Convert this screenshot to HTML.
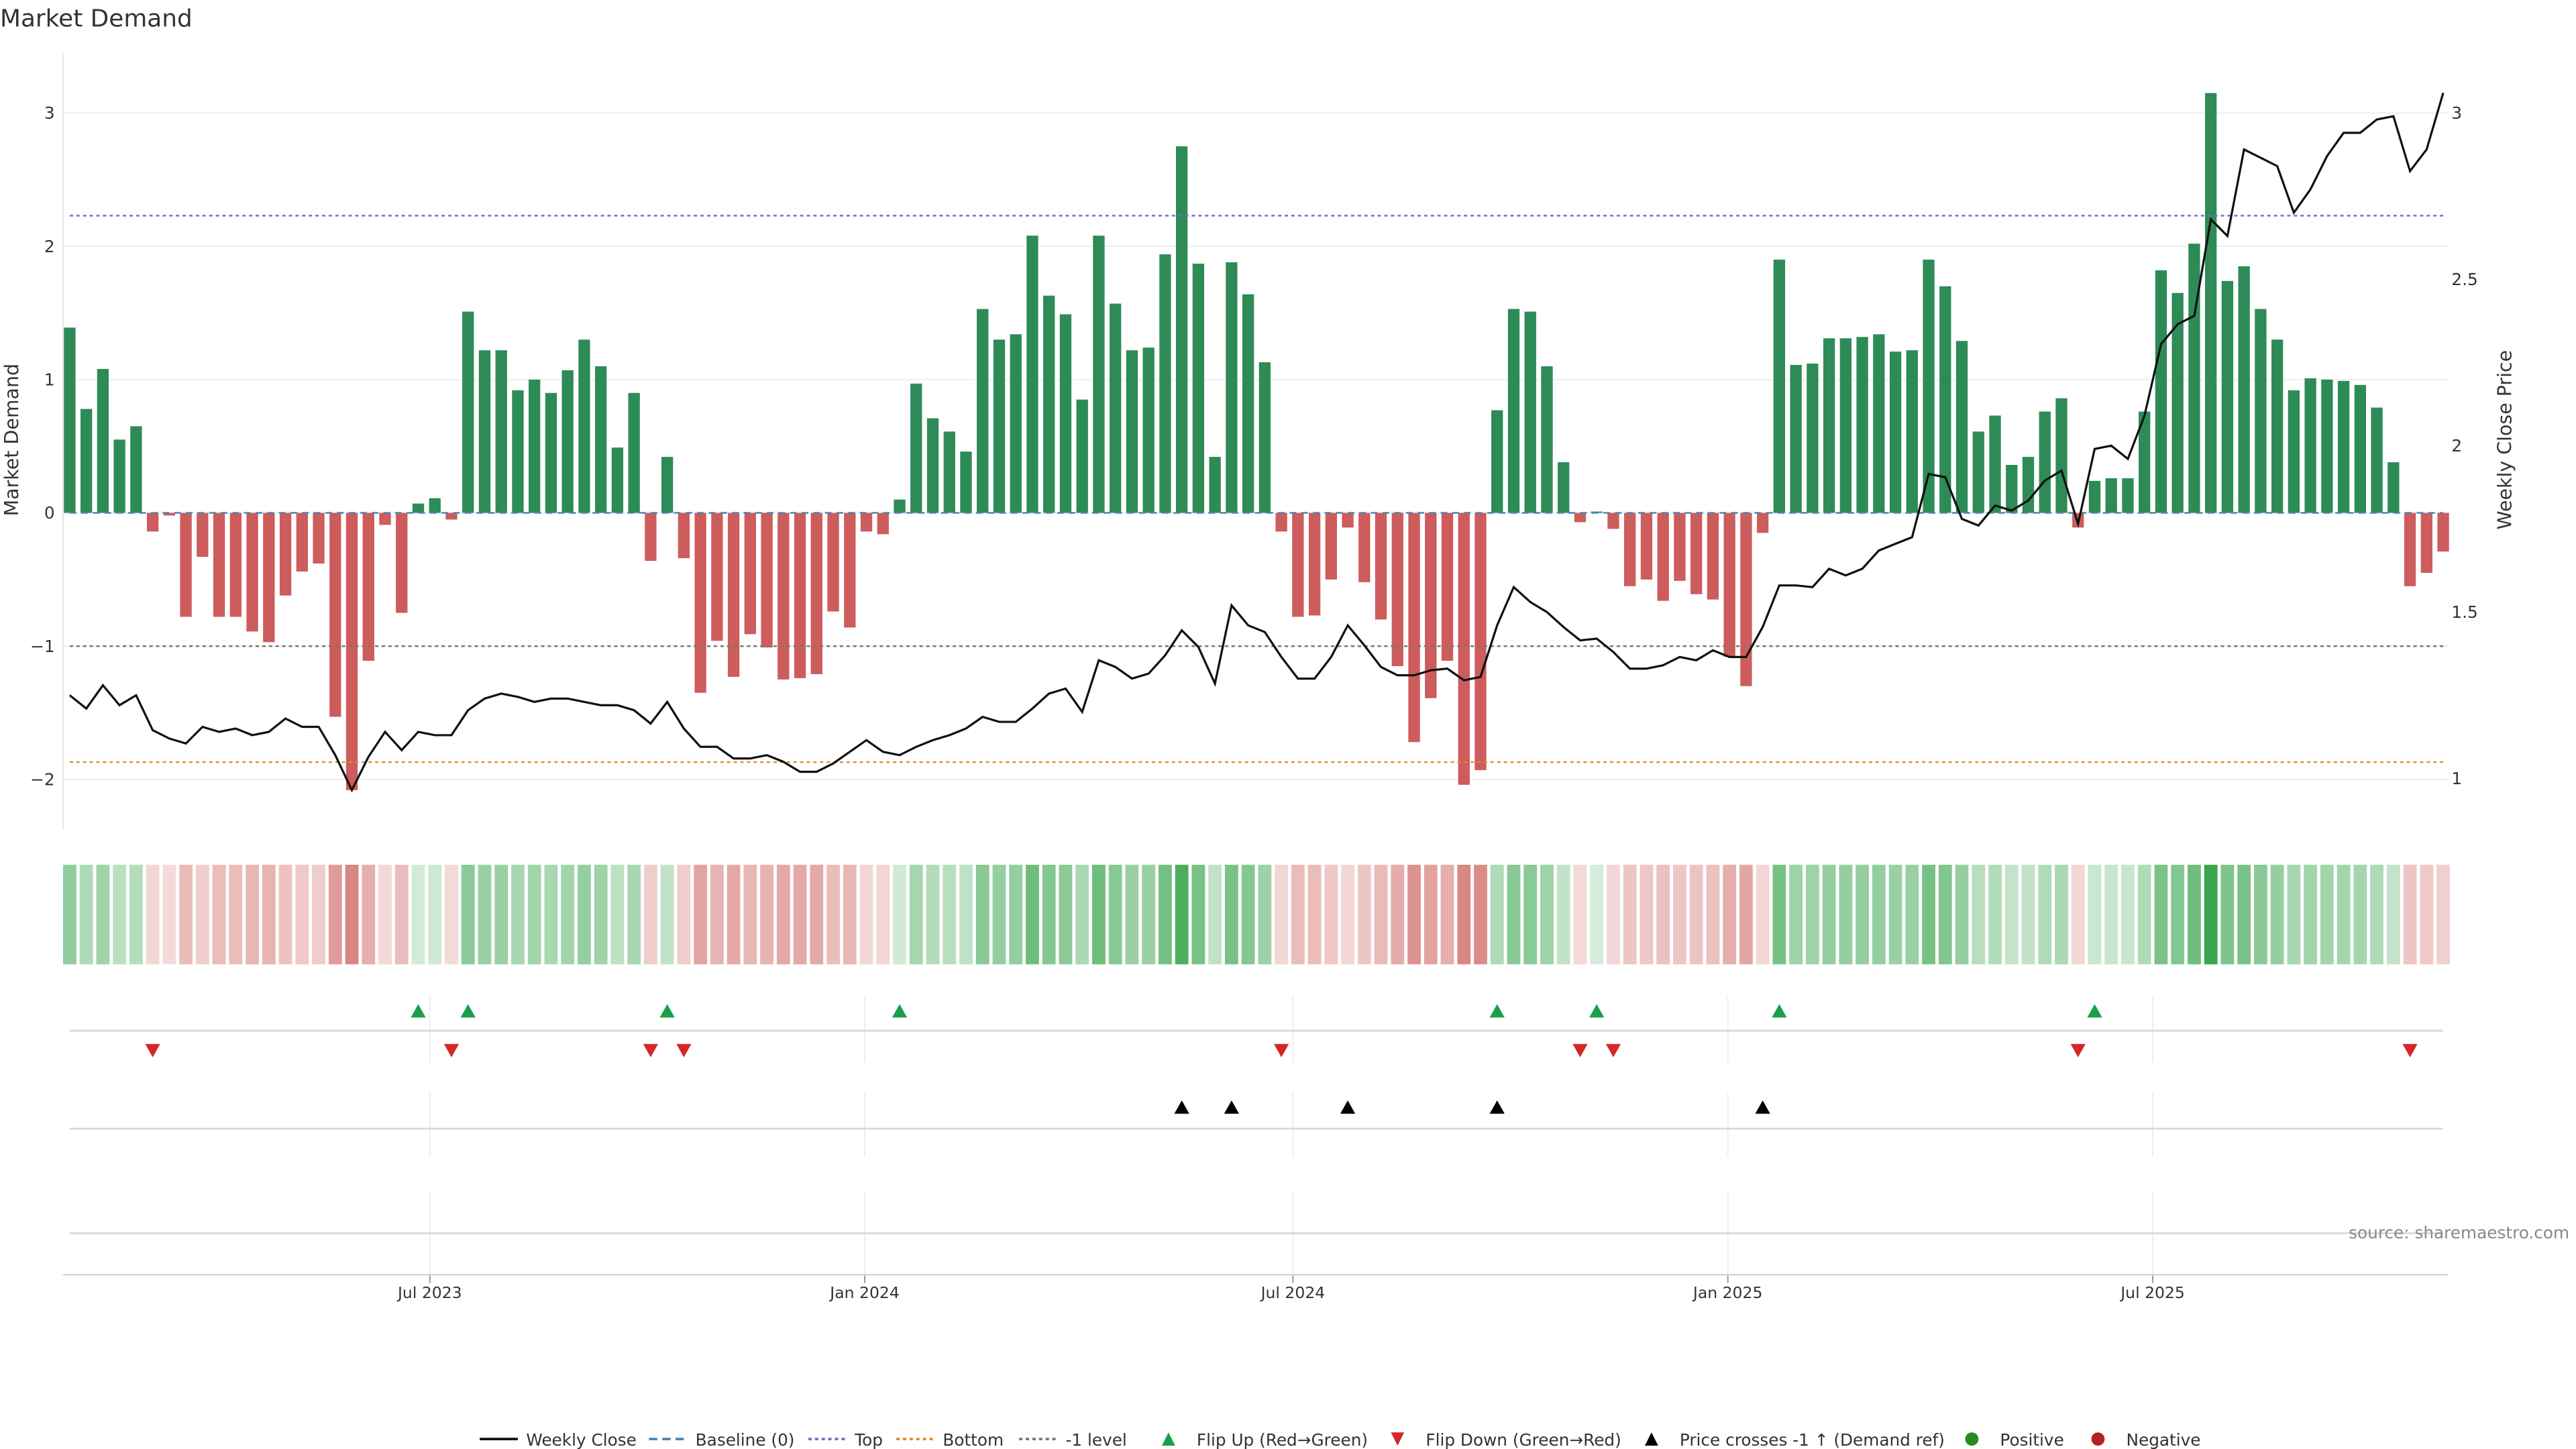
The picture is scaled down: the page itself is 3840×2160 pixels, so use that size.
<!DOCTYPE html>
<html><head><meta charset="utf-8"><style>
html,body{margin:0;padding:0;background:#fff;}
svg{display:block;font-family:"DejaVu Sans","Liberation Sans",sans-serif;}
</style></head><body>
<svg id="chart" width="3840" height="2160" viewBox="0 0 1552 873" xmlns="http://www.w3.org/2000/svg">
<text x="0" y="16" font-size="14.5" fill="#333">Market Demand</text>
<text transform="translate(11,265) rotate(-90)" text-anchor="middle" font-size="11.5" fill="#333">Market Demand</text>
<text transform="translate(1513,265) rotate(-90)" text-anchor="middle" font-size="11.5" fill="#333">Weekly Close Price</text>
<g id="grid"></g><g id="bars"></g><g id="lines"></g><g id="heat"></g><g id="markers"></g><g id="axes"></g>
<text x="1548" y="746" text-anchor="end" font-size="10" fill="#888">source: sharemaestro.com</text>
<g id="legend" font-size="10" fill="#333"></g>
</svg>
<script>
const demand=[1.39,0.78,1.08,0.55,0.65,-0.14,-0.02,-0.78,-0.33,-0.78,-0.78,-0.89,-0.97,-0.62,-0.44,-0.38,-1.53,-2.08,-1.11,-0.09,-0.75,0.07,0.11,-0.05,1.51,1.22,1.22,0.92,1.0,0.9,1.07,1.3,1.1,0.49,0.9,-0.36,0.42,-0.34,-1.35,-0.96,-1.23,-0.91,-1.01,-1.25,-1.24,-1.21,-0.74,-0.86,-0.14,-0.16,0.1,0.97,0.71,0.61,0.46,1.53,1.3,1.34,2.08,1.63,1.49,0.85,2.08,1.57,1.22,1.24,1.94,2.75,1.87,0.42,1.88,1.64,1.13,-0.14,-0.78,-0.77,-0.5,-0.11,-0.52,-0.8,-1.15,-1.72,-1.39,-1.11,-2.04,-1.93,0.77,1.53,1.51,1.1,0.38,-0.07,0.01,-0.12,-0.55,-0.5,-0.66,-0.51,-0.61,-0.65,-1.08,-1.3,-0.15,1.9,1.11,1.12,1.31,1.31,1.32,1.34,1.21,1.22,1.9,1.7,1.29,0.61,0.73,0.36,0.42,0.76,0.86,-0.11,0.24,0.26,0.26,0.76,1.82,1.65,2.02,3.15,1.74,1.85,1.53,1.3,0.92,1.01,1.0,0.99,0.96,0.79,0.38,-0.55,-0.45,-0.29];
const price=[1.25,1.21,1.28,1.22,1.25,1.145,1.12,1.105,1.155,1.14,1.15,1.13,1.14,1.18,1.155,1.155,1.07,0.965,1.065,1.14,1.085,1.14,1.13,1.13,1.205,1.24,1.255,1.245,1.23,1.24,1.24,1.23,1.22,1.22,1.205,1.165,1.23,1.15,1.095,1.095,1.06,1.06,1.07,1.05,1.02,1.02,1.045,1.08,1.115,1.08,1.07,1.095,1.115,1.13,1.15,1.185,1.17,1.17,1.21,1.255,1.27,1.2,1.355,1.335,1.3,1.315,1.37,1.445,1.395,1.285,1.52,1.46,1.44,1.365,1.3,1.3,1.365,1.46,1.4,1.335,1.31,1.31,1.325,1.33,1.295,1.305,1.46,1.575,1.53,1.5,1.455,1.415,1.42,1.38,1.33,1.33,1.34,1.365,1.355,1.385,1.365,1.365,1.455,1.58,1.58,1.575,1.63,1.61,1.63,1.685,1.705,1.725,1.915,1.905,1.78,1.76,1.82,1.805,1.835,1.895,1.925,1.765,1.99,2.0,1.96,2.09,2.305,2.365,2.39,2.68,2.63,2.89,2.865,2.84,2.7,2.77,2.87,2.94,2.94,2.98,2.99,2.825,2.89,3.06];
const flipUp=[21,24,36,50,86,92,103,122];
const flipDown=[5,23,35,37,73,91,93,121,141];
const priceCross=[67,70,77,86,102];
const levels={top:2.23,bottom:-1.87,minus1:-1};
const demandTicks=[3,2,1,0,-1,-2];
const priceTicks=[3,2.5,2,1.5,1];
const dateLabels=["Jul 2023","Jan 2024","Jul 2024","Jan 2025","Jul 2025"];
const dateIdx=[21.7,47.9,73.7,99.9,125.5];

const NS="http://www.w3.org/2000/svg";
const x=i=>42+i*(1430/143);
const yD=v=>309-v*80.3;
const yP=v=>469-(v-1)*200.5;
function mk(tag,attrs,parent,txt){const e=document.createElementNS(NS,tag);for(const k in attrs)e.setAttribute(k,attrs[k]);if(txt!==undefined)e.textContent=txt;document.getElementById(parent).appendChild(e);return e;}

// grid & ticks
demandTicks.forEach(t=>{
  const g=mk('line',{x1:38,x2:1475,y1:yD(t),y2:yD(t),stroke:'#eeeef2','stroke-width':0.8},'grid');
  
  
  const l=mk('text',{x:33,y:yD(t)+3.5,'text-anchor':'end','font-size':10,fill:'#333'},'axes',t<0?'\u2212'+(-t):String(t));
  
  
});
priceTicks.forEach(t=>{
  const l=mk('text',{x:1477,y:yP(t)+3.5,'font-size':10,fill:'#333'},'axes',String(t));
  
  
});
mk('line',{x1:38,x2:38,y1:32,y2:500,stroke:'#e6e6ea','stroke-width':0.8},'grid');
dateIdx.forEach((d,k)=>{
  const xx=x(d);
  [[600,640],[658,697],[718,768]].forEach(r=>mk('line',{x1:xx,x2:xx,y1:r[0],y2:r[1],stroke:'#eeeef0','stroke-width':0.8},'grid'));
  mk('line',{x1:xx,x2:xx,y1:768,y2:773,stroke:'#999','stroke-width':0.8},'axes');
  const l=mk('text',{x:xx,y:782,'text-anchor':'middle','font-size':9.5,fill:'#333'},'axes',dateLabels[k]);
  
  
});
[[621,'flip-panel-axis'],[680,'cross-panel-axis'],[743,'empty-panel-axis']].forEach(p=>{
  const l=mk('line',{x1:42,x2:1472,y1:p[0],y2:p[0],stroke:'#d5d5d5','stroke-width':1},'axes');
  
  
});
const xa=mk('line',{x1:38,x2:1475,y1:768,y2:768,stroke:'#d5d5d5','stroke-width':1},'axes');



// bars
demand.forEach((v,i)=>{
  const y0=yD(0),y1=yD(v);
  const b=mk('rect',{x:x(i)-3.5,y:Math.min(y0,y1),width:7,height:Math.max(Math.abs(y1-y0),0.3),fill:v>=0?'#2e8b57':'#cd5c5c'},'bars');
  
  
});
// level lines
const lv=[[0,'#4a86b0','4,3','baseline-line'],[levels.top,'#7b68c8','2,2','top-line'],[levels.bottom,'#e08a30','2,2','bottom-line'],[levels.minus1,'#777','2,2','minus1-line']];
lv.forEach(l=>{const e=mk('line',{x1:42,x2:1472,y1:yD(l[0]),y2:yD(l[0]),stroke:l[1],'stroke-width':1,'stroke-dasharray':l[2]},'lines');
  
  });
// price line
const pl=mk('polyline',{points:price.map((p,i)=>x(i)+','+yP(p)).join(' '),fill:'none',stroke:'#111','stroke-width':1.3},'lines');



// heat strip
const maxA=Math.max(...demand.map(Math.abs));
demand.forEach((v,i)=>{
  const a=0.2+0.75*Math.abs(v)/maxA;
  const c=mk('rect',{x:x(i)-4,y:521,width:8,height:60,fill:v>=0?'rgb(46,160,67)':'rgb(200,80,75)','fill-opacity':a.toFixed(3)},'heat');
  
  
});
// markers
function tri(cx,cy,up,col,name){
  const p=up?`${cx-4.5},${cy+4} ${cx+4.5},${cy+4} ${cx},${cy-4}`:`${cx-4.5},${cy-4} ${cx+4.5},${cy-4} ${cx},${cy+4}`;
  const e=mk('polygon',{points:p,fill:col},'markers');
  
  
}
flipUp.forEach(i=>tri(x(i),609,true,'#1a9e4a','flip-up-marker'));
flipDown.forEach(i=>tri(x(i),633,false,'#d62728','flip-down-marker'));
priceCross.forEach(i=>tri(x(i),667,true,'#000','price-cross-marker'));

// legend
let lx=289;const ly=867;
function legItem(name,drawFn,label,w){
  const g=mk('g',{},'legend');
  
  
  drawFn(g,lx);
  const t=document.createElementNS(NS,'text');t.setAttribute('x',lx+28);t.setAttribute('y',ly+4);t.textContent=label;g.appendChild(t);
  lx+=w;
}
function ln(g,x0,col,dash,wd){const l=document.createElementNS(NS,'line');l.setAttribute('x1',x0);l.setAttribute('x2',x0+23);l.setAttribute('y1',ly);l.setAttribute('y2',ly);l.setAttribute('stroke',col);l.setAttribute('stroke-width',wd||1.5);if(dash)l.setAttribute('stroke-dasharray',dash);g.appendChild(l);}
function pg(g,pts,col){const p=document.createElementNS(NS,'polygon');p.setAttribute('points',pts);p.setAttribute('fill',col);g.appendChild(p);}
function ci(g,cx,col){const c=document.createElementNS(NS,'circle');c.setAttribute('cx',cx);c.setAttribute('cy',ly);c.setAttribute('r',4);c.setAttribute('fill',col);g.appendChild(c);}
legItem('legend-weekly-close',(g,x0)=>ln(g,x0,'#111',null,1.5),'Weekly Close',102);
legItem('legend-baseline',(g,x0)=>ln(g,x0,'#4a86b0','5,3'),'Baseline (0)',96);
legItem('legend-top',(g,x0)=>ln(g,x0,'#7b68c8','2,2'),'Top',53);
legItem('legend-bottom',(g,x0)=>ln(g,x0,'#e08a30','2,2'),'Bottom',74);
legItem('legend-minus1',(g,x0)=>ln(g,x0,'#777','2,2'),'-1 level',79);
legItem('legend-flip-up',(g,x0)=>pg(g,`${x0+7},${ly+4} ${x0+15},${ly+4} ${x0+11},${ly-4}`,'#1a9e4a'),'Flip Up (Red\u2192Green)',138);
legItem('legend-flip-down',(g,x0)=>pg(g,`${x0+7},${ly-4} ${x0+15},${ly-4} ${x0+11},${ly+4}`,'#d62728'),'Flip Down (Green\u2192Red)',153);
legItem('legend-price-cross',(g,x0)=>pg(g,`${x0+7},${ly+4} ${x0+15},${ly+4} ${x0+11},${ly-4}`,'#000'),'Price crosses -1 \u2191 (Demand ref)',193);
legItem('legend-positive',(g,x0)=>ci(g,x0+11,'#228b22'),'Positive',76);
legItem('legend-negative',(g,x0)=>ci(g,x0+11,'#b22222'),'Negative',70);
</script>
</body></html>
